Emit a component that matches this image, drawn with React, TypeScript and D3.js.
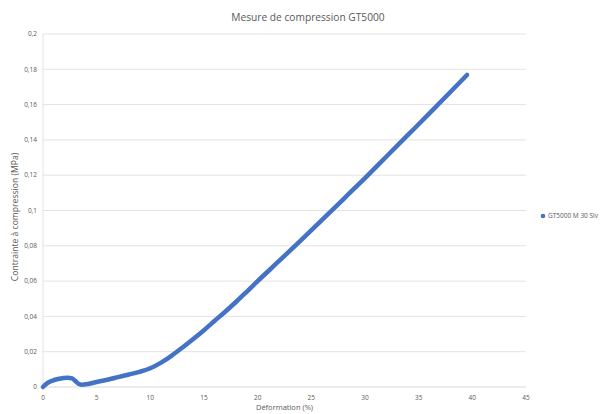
import { useEffect, useRef } from 'react';
import * as d3 from 'd3';

const title = 'Mesure de compression GT5000';
const xLabel = 'Déformation (%)';
const yLabel = 'Contrainte à compression (MPa)';
const seriesName = 'GT5000 M 30 Slv';

// strain (%) and stress (MPa)
const strain = [0, 0.4, 0.9, 1.4, 1.9, 2.3, 2.7, 3.0, 3.3, 3.6, 4.2, 5, 6, 7, 8, 9, 10, 11, 12, 13, 14, 15, 16, 17, 18, 19, 20, 22, 24, 26, 28, 30, 32, 34, 36, 38, 39.5];
const stress = [0, 0.0022, 0.0036, 0.0045, 0.0051, 0.0053, 0.0049, 0.0035, 0.0018, 0.0013, 0.0017, 0.0028, 0.0041, 0.0056, 0.0071, 0.0086, 0.0106, 0.0138, 0.0178, 0.0224, 0.0272, 0.0322, 0.0375, 0.0428, 0.0483, 0.0541, 0.06, 0.0714, 0.083, 0.0947, 0.1065, 0.1184, 0.1306, 0.1428, 0.155, 0.1674, 0.1768];

const xTicks = [0, 5, 10, 15, 20, 25, 30, 35, 40, 45];
const yTicks = [0, 0.02, 0.04, 0.06, 0.08, 0.1, 0.12, 0.14, 0.16, 0.18, 0.2];

const W = 601;
const H = 414;
const font = '"Open Sans", sans-serif';
const grey = '#595959';
const blue = '#4472C4';

export default function App() {
  const ref = useRef<SVGSVGElement>(null);

  useEffect(() => {
    if (!ref.current) return;
    const svg = d3.select(ref.current);
    svg.selectAll('*').remove();

    const x = d3.scaleLinear().domain([0, 45]).range([43, 526]);
    const y = d3.scaleLinear().domain([0, 0.2]).range([387, 34]);

    svg.append('rect').attr('width', W).attr('height', H).attr('fill', '#fff');

    svg.append('g')
      .selectAll('line')
      .data(yTicks.slice(1))
      .join('line')
      .attr('x1', x(0)).attr('x2', x(45))
      .attr('y1', (d) => y(d)).attr('y2', (d) => y(d))
      .attr('stroke', '#e3e3e3')
      .attr('stroke-width', 1);

    // axis lines
    svg.append('line')
      .attr('x1', x(0)).attr('x2', x(45))
      .attr('y1', y(0)).attr('y2', y(0))
      .attr('stroke', '#d9d9d9');
    svg.append('line')
      .attr('x1', x(0)).attr('x2', x(0))
      .attr('y1', y(0)).attr('y2', y(0.2))
      .attr('stroke', '#e3e3e3');

    const fmt = (v: number) => String(+v.toFixed(2)).replace('.', ',');

    svg.append('g')
      .selectAll('text')
      .data(yTicks)
      .join('text')
      .attr('x', 37)
      .attr('y', (d) => y(d))
      .attr('dy', '0.35em')
      .attr('text-anchor', 'end')
      .attr('font-family', font)
      .attr('font-size', 6.5)
      .attr('fill', grey)
      .text(fmt);

    svg.append('g')
      .selectAll('text')
      .data(xTicks)
      .join('text')
      .attr('x', (d) => x(d))
      .attr('y', 400)
      .attr('text-anchor', 'middle')
      .attr('font-family', font)
      .attr('font-size', 6.5)
      .attr('fill', grey)
      .text((d) => String(d));

    const pts = strain.map((s, i) => [s, stress[i]] as [number, number]);
    const line = d3.line<[number, number]>()
      .x((d) => x(d[0]))
      .y((d) => y(d[1]))
      .curve(d3.curveMonotoneX);

    svg.append('path')
      .datum(pts)
      .attr('d', line)
      .attr('fill', 'none')
      .attr('stroke', blue)
      .attr('stroke-width', 4.5)
      .attr('stroke-linecap', 'round')
      .attr('stroke-linejoin', 'round');

    svg.append('text')
      .attr('x', 308)
      .attr('y', 21)
      .attr('text-anchor', 'middle')
      .attr('font-family', font)
      .attr('font-size', 10.2)
      .attr('fill', grey)
      .text(title);

    svg.append('text')
      .attr('x', 284.5)
      .attr('y', 410)
      .attr('text-anchor', 'middle')
      .attr('font-family', font)
      .attr('font-size', 7.5)
      .attr('fill', grey)
      .text(xLabel);

    svg.append('text')
      .attr('transform', `translate(18, 217) rotate(-90)`)
      .attr('text-anchor', 'middle')
      .attr('font-family', font)
      .attr('font-size', 8.6)
      .attr('fill', grey)
      .text(yLabel);

    const legend = svg.append('g').attr('transform', 'translate(543, 216)');
    legend.append('circle').attr('r', 2.3).attr('fill', blue);
    legend.append('text')
      .attr('x', 5)
      .attr('dy', '0.35em')
      .attr('font-family', font)
      .attr('font-size', 6.5)
      .attr('fill', grey)
      .text(seriesName);
  }, []);

  return (
    <svg
      ref={ref}
      width={W}
      height={H}
      style={{ position: 'absolute', left: 0, top: 0 }}
    />
  );
}
